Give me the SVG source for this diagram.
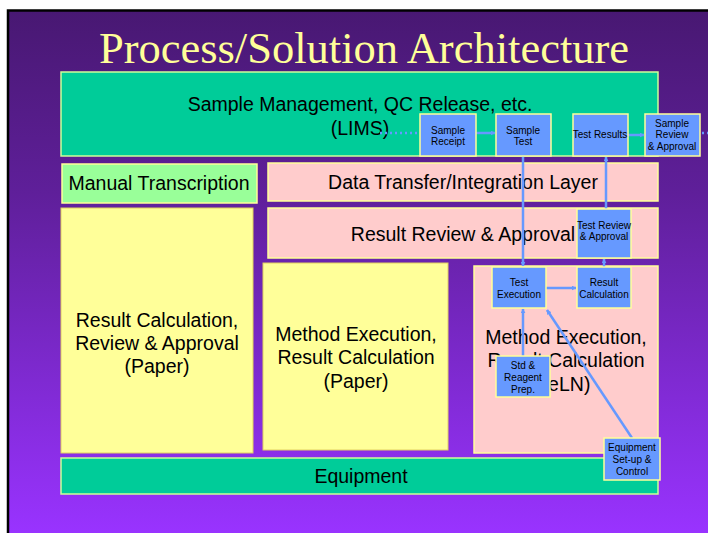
<svg xmlns="http://www.w3.org/2000/svg" width="708" height="533" viewBox="0 0 708 533">
<defs>
<linearGradient id="bg" x1="0" y1="0" x2="0" y2="1">
<stop offset="0" stop-color="#481872"/>
<stop offset="0.35" stop-color="#5f1f9a"/>
<stop offset="1" stop-color="#9933ff"/>
</linearGradient>
<marker id="ah" viewBox="0 0 8 8" refX="7" refY="4" markerWidth="5" markerHeight="5" orient="auto" markerUnits="userSpaceOnUse">
<path d="M0,0 L8,4 L0,8 z" fill="#6699ff"/>
</marker>
<style>
.big{font-family:"Liberation Sans",Arial,sans-serif;font-size:19.5px;fill:#000;text-anchor:middle}
.sm{font-family:"Liberation Sans",Arial,sans-serif;font-size:10px;fill:#000;text-anchor:middle}
.g{fill:#00cc99;stroke:#ccff99;stroke-width:1.5}
.lg{fill:#99ff99;stroke:#ffff99;stroke-width:1.5}
.y{fill:#ffff99;stroke:#e0d060;stroke-width:1}
.p{fill:#ffcccc;stroke:#ffff99;stroke-width:1.5}
.b{fill:#6699ff;stroke:#ffff99;stroke-width:1.5}
.c{stroke:#6699ff;stroke-width:2.5;fill:none}
.d{stroke:#6699ff;stroke-width:2.5;fill:none;stroke-dasharray:2 3}
</style>
</defs>
<rect x="0" y="0" width="708" height="533" fill="#fff"/>
<rect x="8" y="10" width="700" height="523" fill="url(#bg)"/>
<path d="M8,533 V10.5 H708" fill="none" stroke="#000" stroke-width="2.5"/>
<text x="364" y="63" font-family="Liberation Serif,'Times New Roman',serif" font-size="44.5" fill="#ffff99" text-anchor="middle">Process/Solution Architecture</text>

<g id="lims"><rect class="g" x="61" y="72" width="597" height="84"/>
<text class="big" x="360" y="111">Sample Management, QC Release, etc.</text>
<text class="big" x="360" y="135">(LIMS)</text></g>
<g id="manual"><rect class="lg" x="62" y="164" width="195" height="39"/>
<text class="big" x="159" y="190">Manual Transcription</text></g>
<g id="dtl"><rect class="p" x="268" y="163" width="390" height="38"/>
<text class="big" x="463" y="189">Data Transfer/Integration Layer</text></g>
<g id="rra"><rect class="p" x="268" y="208" width="390" height="50"/>
<text class="big" x="463" y="241">Result Review &amp; Approval</text></g>
<g id="paper1"><rect class="y" x="61" y="208" width="192" height="245"/>
<text class="big" x="157" y="327">Result Calculation,</text>
<text class="big" x="157" y="350">Review &amp; Approval</text>
<text class="big" x="157" y="373">(Paper)</text></g>
<g id="paper2"><rect class="y" x="263" y="263" width="185" height="187"/>
<text class="big" x="356" y="341">Method Execution,</text>
<text class="big" x="356" y="364">Result Calculation</text>
<text class="big" x="356" y="388">(Paper)</text></g>
<g id="eln"><rect class="p" x="474" y="266" width="184" height="187"/>
<text class="big" x="566" y="344">Method Execution,</text>
<text class="big" x="566" y="367">Result Calculation</text>
<text class="big" x="566" y="391">(eLN)</text></g>
<g id="equip"><rect class="g" x="61" y="458" width="597" height="36"/>
<text class="big" x="361" y="483">Equipment</text></g>

<g id="connectors">
<line class="d" x1="380" y1="133" x2="418" y2="133"/>
<line class="c" x1="476" y1="133" x2="495" y2="133" marker-end="url(#ah)"/>
<line class="c" x1="628" y1="135" x2="644" y2="135" marker-end="url(#ah)"/>
<line class="d" x1="702" y1="133" x2="708" y2="133"/>
<line class="c" x1="523" y1="156" x2="523" y2="266" marker-end="url(#ah)"/>
<line class="c" x1="606" y1="209" x2="606" y2="157" marker-end="url(#ah)"/>
<line class="c" x1="546" y1="288" x2="576" y2="288" marker-end="url(#ah)"/>
<line class="c" x1="604" y1="267" x2="604" y2="259" marker-end="url(#ah)"/>
<line class="c" x1="523" y1="356" x2="523" y2="309" marker-end="url(#ah)"/>
<line class="c" x1="632" y1="438" x2="547" y2="310" marker-end="url(#ah)"/>
</g>

<g id="sreceipt"><rect class="b" x="420" y="114" width="56" height="42"/>
<text class="sm" x="448" y="134">Sample</text><text class="sm" x="448" y="145">Receipt</text></g>
<g id="stest"><rect class="b" x="496" y="114" width="55" height="42"/>
<text class="sm" x="523" y="134">Sample</text><text class="sm" x="523" y="145">Test</text></g>
<g id="tresults"><rect class="b" x="573" y="114" width="55" height="42"/>
<text class="sm" x="600" y="138">Test Results</text></g>
<g id="sreview"><rect class="b" x="645" y="114" width="55" height="42"/>
<text class="sm" x="672" y="127">Sample</text><text class="sm" x="672" y="138">Review</text><text class="sm" x="672" y="150">&amp; Approval</text></g>
<g id="treview"><rect class="b" x="577" y="209" width="54" height="49"/>
<text class="sm" x="604" y="229">Test Review</text><text class="sm" x="604" y="240">&amp; Approval</text></g>
<g id="texec"><rect class="b" x="492" y="267" width="54" height="41"/>
<text class="sm" x="519" y="286">Test</text><text class="sm" x="519" y="298">Execution</text></g>
<g id="rcalc"><rect class="b" x="577" y="267" width="54" height="41"/>
<text class="sm" x="604" y="286">Result</text><text class="sm" x="604" y="298">Calculation</text></g>
<g id="stdprep"><rect class="b" x="496" y="356" width="54" height="41"/>
<text class="sm" x="523" y="369">Std &amp;</text><text class="sm" x="523" y="381">Reagent</text><text class="sm" x="523" y="393">Prep.</text></g>
<g id="eqsetup"><rect class="b" x="604" y="438" width="56" height="42"/>
<text class="sm" x="632" y="451">Equipment</text><text class="sm" x="632" y="463">Set-up &amp;</text><text class="sm" x="632" y="475">Control</text></g>
</svg>
